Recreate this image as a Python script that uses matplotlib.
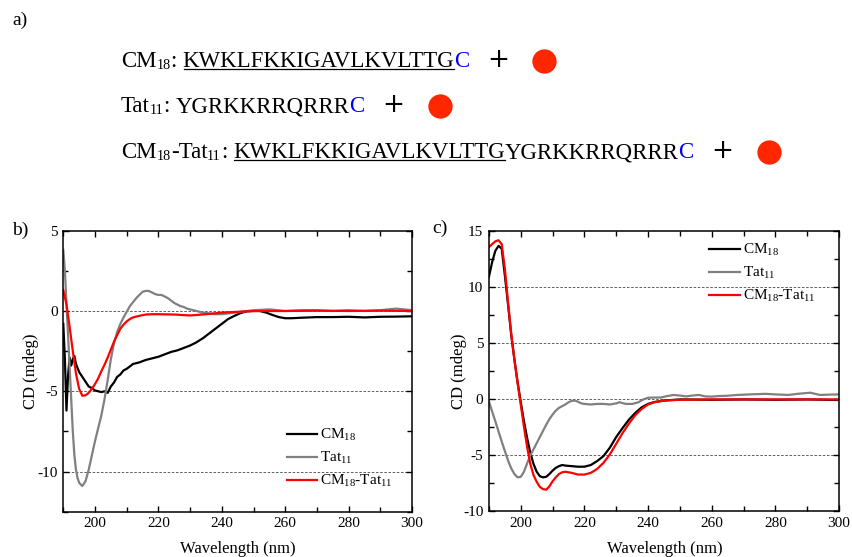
import numpy as np
import matplotlib
matplotlib.use('Agg')
import matplotlib.pyplot as plt
from matplotlib.ticker import MultipleLocator
from matplotlib.transforms import IdentityTransform
from matplotlib.lines import Line2D

SERIF = 'Liberation Serif'
plt.rcParams['font.family'] = [SERIF, 'DejaVu Serif']
plt.rcParams['mathtext.fontset'] = 'custom'
plt.rcParams['mathtext.rm'] = SERIF
plt.rcParams['mathtext.it'] = SERIF + ':italic'
plt.rcParams['axes.unicode_minus'] = False

# ---- panel b data (wavelength nm, CD mdeg) ----
b_cm_wl = [190, 190.5, 191, 191.5, 192, 192.5, 193, 193.5, 194, 195, 196, 197, 198, 199, 200,
           201, 202, 203, 204, 205, 206, 207, 208, 209, 210, 212, 214, 216, 218, 220, 222, 224,
           226, 228, 230, 232, 234, 236, 238, 240, 242, 244, 246, 248, 250, 252, 254, 256, 258,
           260, 262, 265, 270, 275, 280, 285, 290, 295, 300]
b_cm = [-0.8, -3.0, -6.2, -4.0, -2.9, -3.4, -3.0, -2.8, -3.3, -3.8, -4.1, -4.4, -4.7, -4.8, -4.95,
        -5.0, -5.05, -5.0, -5.1, -4.7, -4.45, -4.1, -3.95, -3.7, -3.6, -3.3, -3.2, -3.05, -2.95, -2.85,
        -2.7, -2.55, -2.45, -2.3, -2.15, -1.95, -1.7, -1.4, -1.1, -0.8, -0.5, -0.3, -0.12, -0.02,
        0.0, 0.0, -0.1, -0.25, -0.38, -0.45, -0.45, -0.42, -0.38, -0.38, -0.36, -0.4, -0.36, -0.35, -0.33]

b_tat_wl = [190, 190.5, 191, 191.5, 192, 192.5, 193, 193.5, 194, 194.5, 195, 196, 197, 198, 199,
            200, 201, 202, 203, 204, 205, 206, 207, 208, 209, 210, 211, 212, 213, 214, 215, 216,
            217, 218, 219, 220, 221, 222, 223, 224, 225, 226, 227, 228, 229, 230, 232, 234, 236,
            238, 240, 242, 244, 246, 248, 250, 255, 260, 265, 270, 275, 280, 285, 290, 295, 300]
b_tat = [3.8, 2.5, 0.5, -1.5, -3.5, -5.5, -7.5, -9.0, -9.9, -10.4, -10.7, -10.9, -10.6, -9.9, -9.0,
         -8.1, -7.3, -6.5, -5.5, -4.3, -3.0, -2.0, -1.3, -0.8, -0.4, -0.05, 0.3, 0.55, 0.8, 1.0,
         1.2, 1.25, 1.25, 1.15, 1.05, 1.0, 1.0, 0.9, 0.8, 0.65, 0.5, 0.4, 0.3, 0.25, 0.15, 0.1,
         0.0, -0.1, -0.15, -0.2, -0.2, -0.15, -0.1, -0.05, 0.0, 0.05, 0.1, 0.0, 0.05, 0.05, 0.0,
         0.05, 0.0, 0.05, 0.15, 0.05]

b_mix_wl = [190, 191, 192, 193, 194, 195, 196, 197, 198, 199, 200, 201, 202, 203, 204, 205, 206,
            207, 208, 209, 210, 211, 212, 213, 214, 216, 218, 220, 225, 230, 235, 240, 245, 250,
            260, 270, 280, 290, 300]
b_mix = [1.3, 0.4, -1.0, -2.5, -3.9, -4.85, -5.28, -5.25, -5.1, -4.85, -4.55, -4.2, -3.75, -3.35,
         -2.9, -2.4, -1.9, -1.5, -1.1, -0.85, -0.65, -0.5, -0.4, -0.35, -0.3, -0.22, -0.2, -0.2,
         -0.22, -0.28, -0.2, -0.1, -0.05, 0.0, 0.0, 0.02, 0.0, 0.02, 0.0]

# ---- panel c data ----
c_cm_wl = [190, 191, 192, 193, 194, 195, 196, 197, 198, 199, 200, 201, 202, 203, 204, 205, 206,
           207, 208, 209, 210, 211, 212, 213, 214, 216, 218, 220, 222, 224, 226, 228, 230, 232,
           234, 236, 238, 240, 242, 245, 250, 260, 270, 280, 290, 300]
c_cm = [10.9, 12.2, 13.2, 13.65, 13.4, 11.0, 8.4, 5.7, 3.5, 1.5, -0.3, -2.0, -3.5, -4.8, -5.8,
        -6.5, -6.9, -7.0, -6.95, -6.7, -6.4, -6.15, -6.0, -5.9, -5.95, -6.0, -6.05, -6.05, -5.9,
        -5.55, -5.1, -4.35, -3.4, -2.6, -1.85, -1.25, -0.75, -0.45, -0.28, -0.15, -0.05, -0.08,
        -0.05, -0.08, -0.05, -0.1]

c_tat_wl = [190, 192, 194, 196, 197, 198, 199, 200, 201, 202, 203, 204, 205, 206, 207, 208, 209,
            210, 211, 212, 213, 214, 215, 216, 217, 218, 219, 220, 222, 224, 226, 228, 230, 231,
            233, 235, 237, 238.5, 240, 242, 244, 246, 248, 250, 252, 254, 256, 258, 260, 262,
            265, 268, 272, 277, 280, 284, 287, 291, 294, 297, 300]
c_tat = [-0.25, -2.0, -3.8, -5.5, -6.2, -6.7, -7.0, -6.95, -6.5, -5.75, -5.05, -4.5, -3.95, -3.4,
         -2.85, -2.3, -1.8, -1.4, -1.05, -0.8, -0.65, -0.5, -0.3, -0.18, -0.15, -0.25, -0.4, -0.45,
         -0.5, -0.45, -0.45, -0.5, -0.4, -0.3, -0.45, -0.45, -0.3, -0.05, 0.1, 0.12, 0.12, 0.25,
         0.35, 0.3, 0.22, 0.3, 0.35, 0.22, 0.2, 0.25, 0.28, 0.35, 0.4, 0.45, 0.4, 0.35, 0.45, 0.55,
         0.35, 0.38, 0.4]

c_mix_wl = [190, 191, 192, 193, 194, 195, 196, 197, 198, 199, 200, 201, 202, 203, 204, 205, 206,
            207, 208, 209, 210, 211, 212, 213, 214, 216, 218, 220, 222, 224, 226, 228, 230, 232,
            234, 236, 238, 240, 242, 245, 250, 260, 270, 280, 290, 300]
c_mix = [13.55, 13.8, 14.05, 14.15, 13.8, 11.6, 8.6, 5.8, 3.5, 1.4, -0.5, -2.5, -4.3, -5.8, -6.8,
         -7.4, -7.85, -8.05, -8.1, -7.8, -7.35, -7.0, -6.7, -6.55, -6.5, -6.6, -6.75, -6.75, -6.6,
         -6.25, -5.7, -4.95, -4.0, -3.05, -2.2, -1.45, -0.9, -0.5, -0.3, -0.15, -0.08, -0.05,
         -0.05, -0.05, -0.05, -0.05]

labels = ['CM$_{18}$', 'Tat$_{11}$', 'CM$_{18}$-Tat$_{11}$']
colors = ['black', '#808080', 'red']

W, H = 852, 557
fig = plt.figure(figsize=(W / 100, H / 100), dpi=100)
fig.patch.set_facecolor('white')


def style_axes(ax, ylim, yticks):
    ax.set_xlim(190, 300)
    ax.set_ylim(*ylim)
    ax.set_xticks(range(200, 301, 20))
    ax.xaxis.set_minor_locator(MultipleLocator(10))
    ax.set_yticks(yticks)
    ax.yaxis.set_minor_locator(MultipleLocator(2.5))
    ax.tick_params(which='both', direction='in', top=True, right=True, width=1.0,
                   labelsize=11, pad=4)
    ax.tick_params(which='major', length=4.5)
    ax.tick_params(which='minor', length=3.5)
    for sp in ax.spines.values():
        sp.set_linewidth(1.1)
    for y in yticks:
        if ylim[0] < y < ylim[1]:
            ax.axhline(y, color='#444444', lw=0.6, ls=(0, (3, 2)), zorder=0)


# panel b
axb = fig.add_axes([0.0743, 0.0813, 0.4093, 0.5045])
for wl, v, lab, col in zip([b_cm_wl, b_tat_wl, b_mix_wl], [b_cm, b_tat, b_mix], labels, colors):
    axb.plot(wl, v, color=col, lw=1.6, label=lab)
style_axes(axb, (-12.5, 5), [5, 0, -5, -10])
axb.set_ylabel('CD (mdeg)', fontsize=12)
axb.yaxis.set_label_coords(-0.07, 0.5)
axb.set_xlabel('Wavelength (nm)', fontsize=12)
axb.xaxis.set_label_coords(0.5, -0.103)
axb.legend(loc='center left', bbox_to_anchor=(0.641, 0.191), frameon=False, fontsize=11,
           handlelength=2.0, handletextpad=0.2, labelspacing=0.45, borderpad=0, borderaxespad=0)

# panel c
axc = fig.add_axes([0.5739, 0.0826, 0.4108, 0.5032])
for wl, v, lab, col in zip([c_cm_wl, c_tat_wl, c_mix_wl], [c_cm, c_tat, c_mix], labels, colors):
    axc.plot(wl, v, color=col, lw=1.6, label=lab)
style_axes(axc, (-10, 15), [15, 10, 5, 0, -5, -10])
axc.set_ylabel('CD (mdeg)', fontsize=12)
axc.yaxis.set_label_coords(-0.063, 0.5)
axc.set_xlabel('Wavelength (nm)', fontsize=12)
axc.xaxis.set_label_coords(0.503, -0.107)
axc.legend(loc='center left', bbox_to_anchor=(0.629, 0.849), frameon=False, fontsize=11,
           handlelength=2.0, handletextpad=0.2, labelspacing=0.45, borderpad=0, borderaxespad=0)

# panel labels
ident = IdentityTransform()
for s, x, y in [('a)', 12, 20), ('b)', 12, 230), ('c)', 432, 228)]:
    fig.text(x, H - y, s, transform=ident, fontsize=14, va='center', ha='left')

# ---- panel a: peptide sequences ----
seq_lines = [
    [('CM', 'n'), ('18', 'sub'), (':', 'n'), (' ', 'gap'), ('KWKLFKKIGAVLKVLTTG', 'under'), ('C', 'blue')],
    [('Tat', 'n'), ('11', 'sub'), (':', 'n'), (' ', 'gap'), ('YGRKKRRQRRR', 'n'), ('C', 'blue')],
    [('CM', 'n'), ('18', 'sub'), ('-Tat', 'n'), ('11', 'sub'), (':', 'n'), (' ', 'gap'),
     ('KWKLFKKIGAVLKVLTTG', 'under'), ('YGRKKRRQRRR', 'n'), ('C', 'blue')],
]
baselines = [67, 112, 158]
FS = 16.5
em = FS * 100 / 72
fig.canvas.draw()
renderer = fig.canvas.get_renderer()
for parts, yb in zip(seq_lines, baselines):
    x = 121
    yy = H - yb
    for s, kind in parts:
        if kind == 'gap':
            x += 0.25 * em
            continue
        fs = FS * 0.62 if kind == 'sub' else FS
        dy = -2 if kind == 'sub' else 0
        col = 'blue' if kind == 'blue' else 'black'
        t = fig.text(x, yy + dy, s, transform=ident, fontsize=fs, color=col,
                     va='baseline', ha='left')
        bb = t.get_window_extent(renderer)
        if kind == 'under':
            fig.add_artist(Line2D([bb.x0 + 1, bb.x1], [yy - 2, yy - 2], transform=ident,
                                  color='black', lw=0.9))
        x = bb.x1
    fig.text(x + 29, yy + 7, '+', transform=ident, fontsize=19, family='DejaVu Sans',
             va='center', ha='center', color='black')
    fig.add_artist(Line2D([x + 75], [yy + 6], transform=ident, marker='o', markersize=17.5,
                          color='#ff2600', markeredgewidth=0))

fig.savefig('out.png', dpi=100)
